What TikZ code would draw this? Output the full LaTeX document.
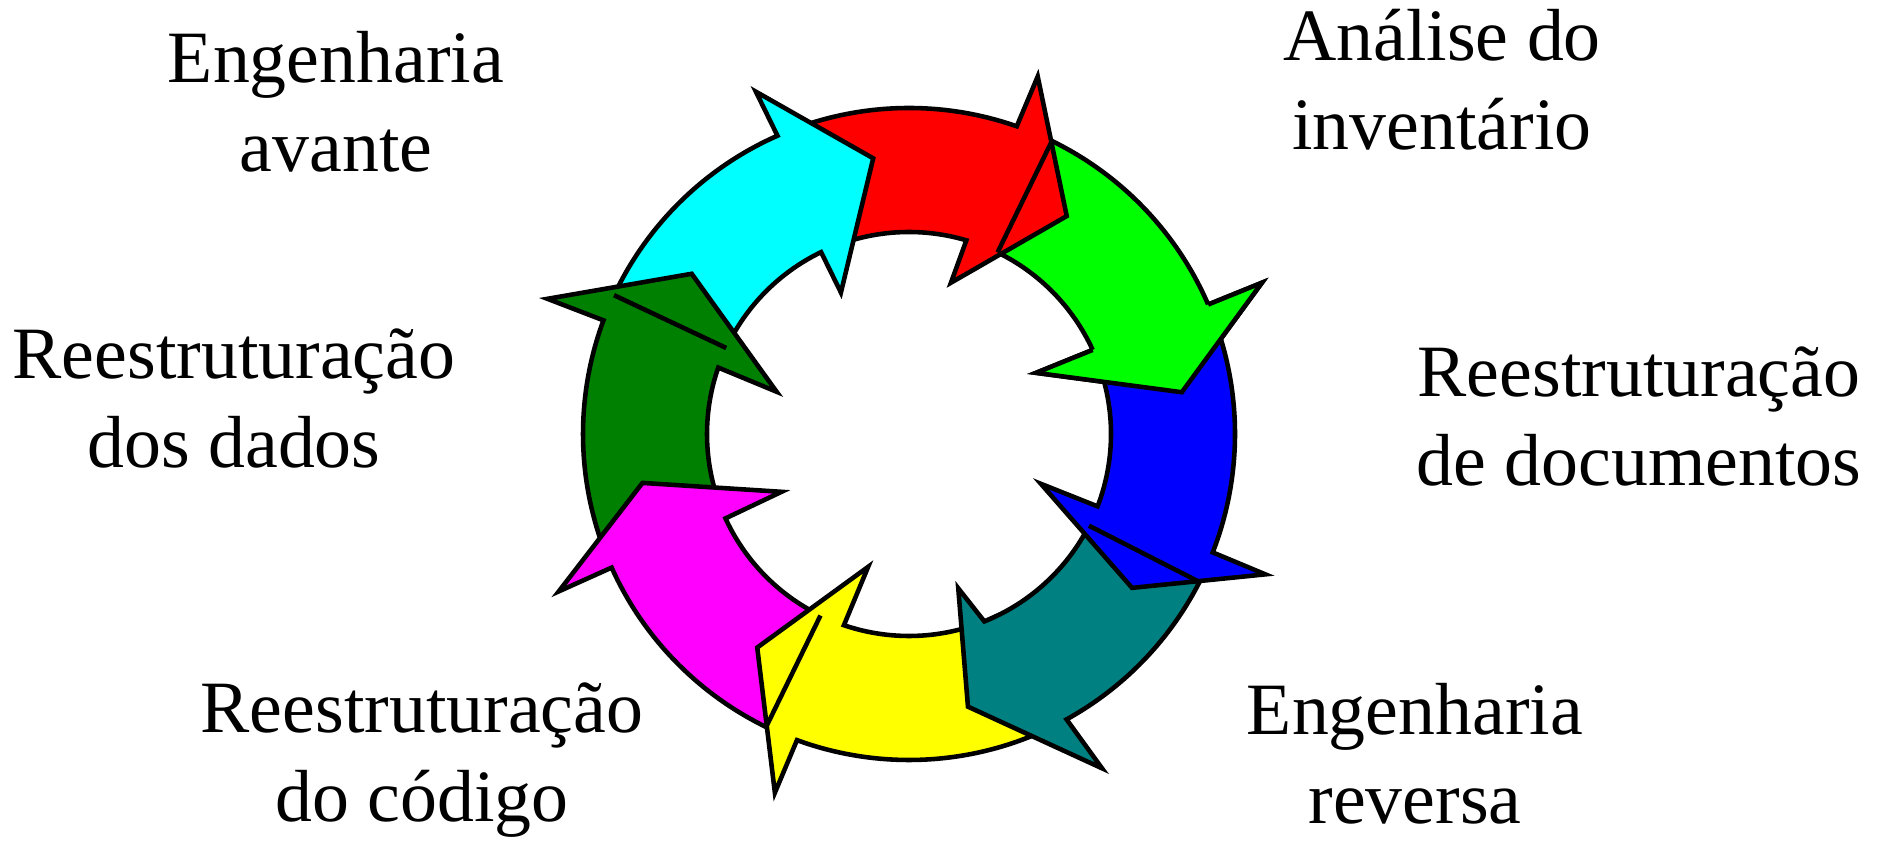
\documentclass[tikz,border=0pt]{standalone}
\usepackage{fontspec}
\setmainfont{Liberation Serif}
\usepackage{tikz}
\usetikzlibrary{calc}

\definecolor{ringred}{RGB}{255,0,0}
\definecolor{ringgreen}{RGB}{0,255,0}
\definecolor{ringblue}{RGB}{0,0,255}
\definecolor{ringteal}{RGB}{0,128,128}
\definecolor{ringyellow}{RGB}{255,255,0}
\definecolor{ringmagenta}{RGB}{255,0,255}
\definecolor{ringdark}{RGB}{0,128,0}
\definecolor{ringcyan}{RGB}{0,255,255}

% one curved arrow of the ring: colour, tail angle, outer notch angle,
% outer barb, tip, inner barb (angle:radius), inner notch angle
\newcommand{\ringarrow}[7]{%
    \draw[arrowline, fill=#1]
        (#2:\rOut) arc[start angle=#2, end angle=#3, radius=\rOut]
        -- (#4) -- (#5) -- (#6)
        -- (#7:\rIn) arc[start angle=#7, end angle=#2, radius=\rIn] -- cycle;}

\begin{document}
\begin{tikzpicture}[
        font=\fontsize{21}{25.5}\selectfont,
        arrowline/.style={draw=black, line width=1.3pt, line join=miter},
        steplabel/.style={align=center, anchor=base, inner sep=0pt}
    ]

        % === DEFINITIONS ===
        \def\rIn{2.02}    % inner radius of the ring
        \def\rOut{3.26}   % outer radius of the ring

        \useasboundingbox (0,0) rectangle (18.82,-8.41);

        % === 1. RING OF ARROWS ===
        \begin{scope}[shift={(9.09,-4.34)}]
            \ringarrow{ringgreen}{64}{23.4}{23.2:3.84}{8.7:2.76}{25.7:1.41}{24.6}
            \ringarrow{ringred}{110}{70.7}{70.2:3.80}{54.1:2.69}{74.5:1.57}{73.5}
            \ringarrow{ringcyan}{154.8}{113.8}{114.1:3.75}{97.4:2.78}{115.7:1.57}{115.8}
            \ringarrow{ringdark}{199}{159.6}{159.5:3.86}{143.6:2.70}{162.3:1.39}{160.8}
            \ringarrow{ringmagenta}{-116}{-155.8}{-155.8:3.84}{-169.6:2.71}{-155.6:1.40}{-155.3}
            \ringarrow{ringyellow}{-64}{-110.1}{-110.5:3.83}{-125.4:2.62}{-107.1:1.39}{-108.8}
            \ringarrow{ringteal}{-27}{-61.1}{-60:3.86}{-77.8:2.79}{-72.3:1.62}{-68.1}
            \ringarrow{ringblue}{19}{-21.3}{-21.5:3.83}{-34.6:2.71}{-20.7:1.41}{-21}

            % green head goes back on top of the blue tail
            \fill[ringgreen] (23.4:\rOut) -- (23.2:3.84) -- (8.7:2.76) -- (25.7:1.41) -- (24.6:\rIn) -- cycle;
            \draw[arrowline] (23.4:\rOut) -- (23.2:3.84) -- (8.7:2.76) -- (25.7:1.41) -- (24.6:\rIn);

            % tail edges that show over the previous head
            \draw[arrowline] (64:\rIn) -- (64:\rOut);
            \draw[arrowline] (-27:\rIn) -- (-27:\rOut);
            \draw[arrowline] (-116:\rIn) -- (-116:\rOut);
            \draw[arrowline] (154.8:\rIn) -- (154.8:\rOut);
        \end{scope}

        % === 2. LABELS (base = last line) ===
        \node[steplabel] (avante) at (3.36,-1.72) {Engenharia\\avante};
        \node[steplabel] (inventario) at (14.42,-1.50) {Análise do\\inventário};
        \node[steplabel] (documentos) at (16.39,-4.86) {Reestruturação\\de documentos};
        \node[steplabel] (reversa) at (14.15,-8.24) {Engenharia\\reversa};
        \node[steplabel] (codigo) at (4.22,-8.22) {Reestruturação\\do código};
        \node[steplabel] (dados) at (2.34,-4.68) {Reestruturação\\dos dados};

    \end{tikzpicture}
\end{document}
